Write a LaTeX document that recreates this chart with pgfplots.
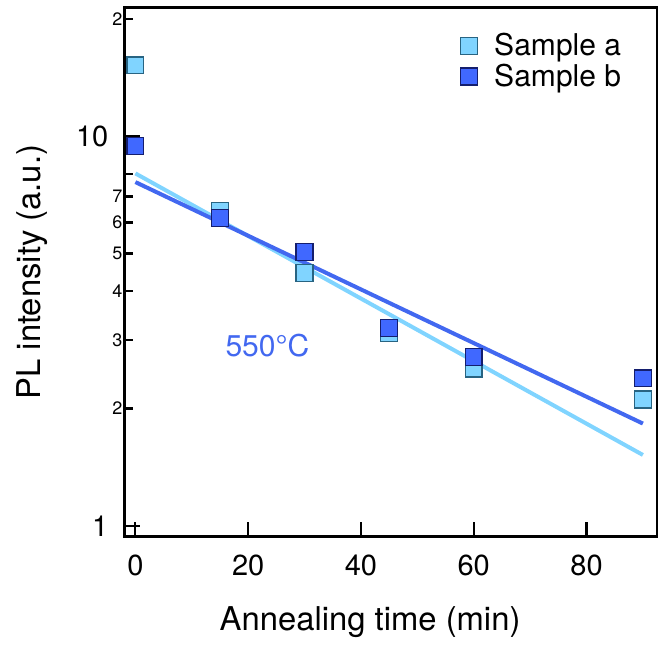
\documentclass[border=0pt]{standalone}
\usepackage{fontspec}
\setmainfont{TeX Gyre Heros}
\usepackage{pgfplots}
\pgfplotsset{compat=1.18}

\definecolor{afill}{RGB}{128,212,255}
\definecolor{aedge}{RGB}{40,100,130}
\definecolor{bfill}{RGB}{64,104,255}
\definecolor{bedge}{RGB}{20,30,110}
\definecolor{aline}{RGB}{128,212,255}
\definecolor{bline}{RGB}{66,104,240}

\begin{document}
\begin{tikzpicture}
\begin{axis}[
    scale only axis,
    width=266.2pt, height=264.8pt,
    xmin=-1.9, xmax=92.5,
    ymode=log, ymin=0.937, ymax=21.4,
    yminorticks=false,
    xtick={0,20,40,60,80},
    ytick={1,10}, yticklabels={1,10},
    extra y ticks={2,3,4,5,6,7,8,20},
    extra y tick labels={2,3,4,5,6,7,{},2},
    extra y tick style={major tick length=4.2pt,
        yticklabel style={font=\fontsize{9}{10}\selectfont, xshift=7pt}},
    tick align=inside,
    xtick pos=left, ytick pos=left,
    major tick length=7.5pt,
    tick style={black, line width=1.1pt},
    axis line style={line width=1.4pt},
    /pgf/number format/assume math mode=true,
    tick label style={font=\fontsize{14.5}{16}\selectfont},
    yticklabel style={inner sep=0pt, xshift=-8pt},
    xticklabel style={inner sep=0pt, yshift=-9pt},
    xlabel={Annealing time (min)},
    ylabel={PL intensity (a.u.)},
    label style={font=\fontsize{16.4}{18}\selectfont},
    xlabel style={at={(axis description cs:0.461,-0.1775)}, anchor=base},
    ylabel style={at={(axis description cs:-0.1743,0.5)}, anchor=center},
    legend style={draw=none, fill=none, font=\fontsize{15}{18}\selectfont,
        at={(axis description cs:0.630,0.959)}, anchor=north west,
        inner sep=0pt, row sep=-1.5pt,
        /tikz/column 1/.style={column sep=6.5pt}},
    legend cell align=left,
]

% fit lines
\addplot[aline, line width=2pt, forget plot] coordinates {(0,8.02) (90,1.52)};
\addplot[bline, line width=2pt, forget plot] coordinates {(0,7.62) (90,1.83)};

% measured points
\addplot[only marks, mark=square*, mark size=4.2pt,
    mark options={fill=afill, draw=aedge, line width=0.7pt}]
    coordinates {(0,15.2) (15,6.43) (30,4.45) (45,3.12) (60,2.53) (90,2.11)};
\addlegendentry{Sample a}
\addplot[only marks, mark=square*, mark size=4.2pt,
    mark options={fill=bfill, draw=bedge, line width=0.7pt}]
    coordinates {(0,9.43) (15,6.17) (30,5.04) (45,3.22) (60,2.71) (90,2.39)};
\addlegendentry{Sample b}

\node[text=bline, font=\fontsize{15}{18}\selectfont, anchor=center]
    at (axis cs:23.4,2.90) {550°C};
\end{axis}
\path (current axis.south west) ++(-62.35pt,-53pt);
\path (current axis.north east) ++(1pt,3.65pt);
\end{tikzpicture}
\end{document}
